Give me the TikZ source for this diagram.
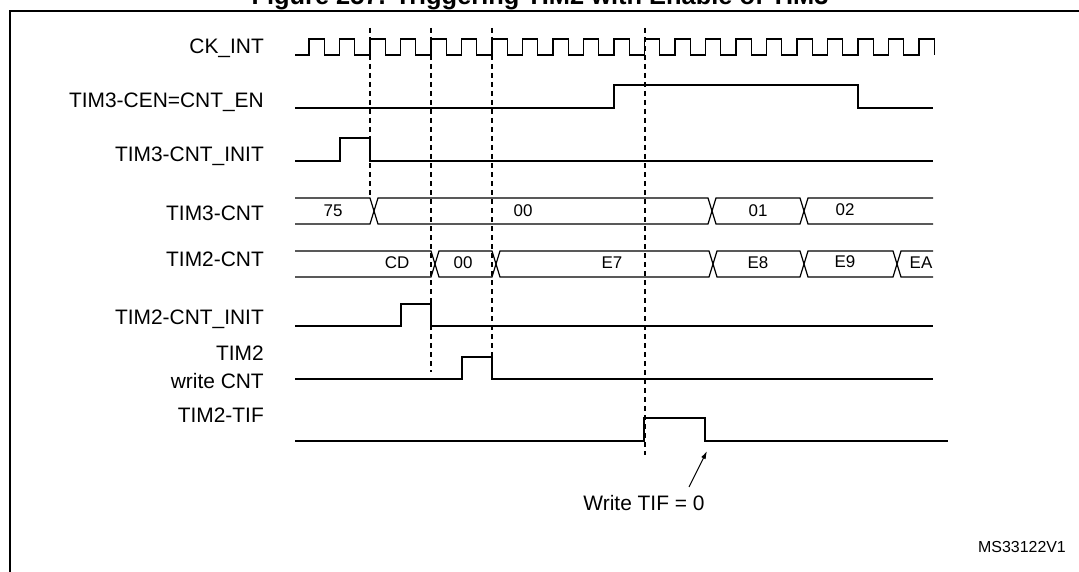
\documentclass[tikz,border=0pt]{standalone}
\usepackage{fontspec}
\setmainfont{Liberation Sans}
\usetikzlibrary{arrows.meta}
\begin{document}
\begin{tikzpicture}[x=1bp,y=-1bp,
  sig/.style={line width=1.2bp,line join=miter},
  dsh/.style={line width=1.1bp,dash pattern=on 5bp off 4bp},
  lbl/.style={anchor=east,inner sep=0pt,font=\fontsize{21}{24}\selectfont,align=right},
  val/.style={inner sep=0pt,font=\fontsize{17}{20}\selectfont}]
\useasboundingbox (0,0) rectangle (1079,572);
% title (clipped at top, as in the reference)
\node[anchor=base,inner sep=0pt,font=\bfseries\fontsize{25.5}{28}\selectfont] (title) at (540,5) {Figure 257. Triggering TIM2 with Enable of TIM3};
% frame
\draw[line width=2bp] (10,600) -- (10,11) -- (1090,11);
% labels
\node[lbl] (l1) at (264,48) {CK\_INT};
\node[lbl] (l2) at (264,102) {TIM3-CEN=CNT\_EN};
\node[lbl] (l3) at (264,156) {TIM3-CNT\_INIT};
\node[lbl] (l4) at (264,213) {TIM3-CNT};
\node[lbl] (l5) at (264,259) {TIM2-CNT};
\node[lbl] (l6) at (264,319) {TIM2-CNT\_INIT};
\node[lbl] (l7) at (264,353) {TIM2};
\node[lbl] (l8) at (264,381) {write CNT};
\node[lbl] (l9) at (264,415) {TIM2-TIF};
% dashed lines
\draw[dsh] (370,28) -- (370,197);
\draw[dsh] (431,28) -- (431,372);
\draw[dsh] (492,28) -- (492,357);
\draw[dsh] (645,28) -- (645,455);
% clock
\draw[sig] (295,55) foreach \k in {0,...,20}{ -- ({309+30.5*\k},55) -- ({309+30.5*\k},39) -- ({324.25+30.5*\k},39) -- ({324.25+30.5*\k},55) };
% CEN
\draw[sig] (295,108) -- (614,108) -- (614,85) -- (858,85) -- (858,108) -- (933,108);
% TIM3-CNT_INIT
\draw[sig] (295,161) -- (340,161) -- (340,138) -- (370,138) -- (370,161) -- (933,161);
% TIM3-CNT bus
\draw[sig] (295,198) -- (370,198) -- (378,224) -- (708,224) -- (716,198) -- (800,198) -- (808,224) -- (933,224);
\draw[sig] (295,224) -- (370,224) -- (378,198) -- (708,198) -- (716,224) -- (800,224) -- (808,198) -- (933,198);
\node[val] (v1) at (333,211) {75};
\node[val] (v2) at (523,211) {00};
\node[val] (v3) at (758,211) {01};
\node[val] (v4) at (845,210) {02};
% TIM2-CNT bus
\draw[sig] (295,251) -- (431,251) -- (439,277) -- (492,277) -- (500,251) -- (709,251) -- (717,277) -- (800,277) -- (808,251) -- (893,251) -- (901,277) -- (933,277);
\draw[sig] (295,277) -- (431,277) -- (439,251) -- (492,251) -- (500,277) -- (709,277) -- (717,251) -- (800,251) -- (808,277) -- (893,277) -- (901,251) -- (933,251);
\node[val] (w1) at (397,263) {CD};
\node[val] (w2) at (463,263) {00};
\node[val] (w3) at (612,263) {E7};
\node[val] (w4) at (758,263) {E8};
\node[val] (w5) at (845,262) {E9};
\node[val] (w6) at (921,263) {EA};
% TIM2-CNT_INIT
\draw[sig] (295,326) -- (401,326) -- (401,304) -- (431,304) -- (431,326) -- (933,326);
% write CNT
\draw[sig] (295,379) -- (462,379) -- (462,357) -- (492,357) -- (492,379) -- (933,379);
% TIF
\draw[sig] (295,441) -- (644,441) -- (644,418) -- (705,418) -- (705,441) -- (948,441);
% annotation
\node[inner sep=0pt,font=\fontsize{21}{24}\selectfont] (wt) at (644,503) {Write TIF = 0};
\coordinate (tail) at (689,487);
\coordinate (tip) at (707,451);
\draw[line width=1.1bp,-{Latex[length=8bp,width=5bp]}] (tail) -- (tip);
\node[inner sep=0pt,font=\fontsize{16}{19}\selectfont] (ms) at (1022,547) {MS33122V1};
\end{tikzpicture}
\end{document}
